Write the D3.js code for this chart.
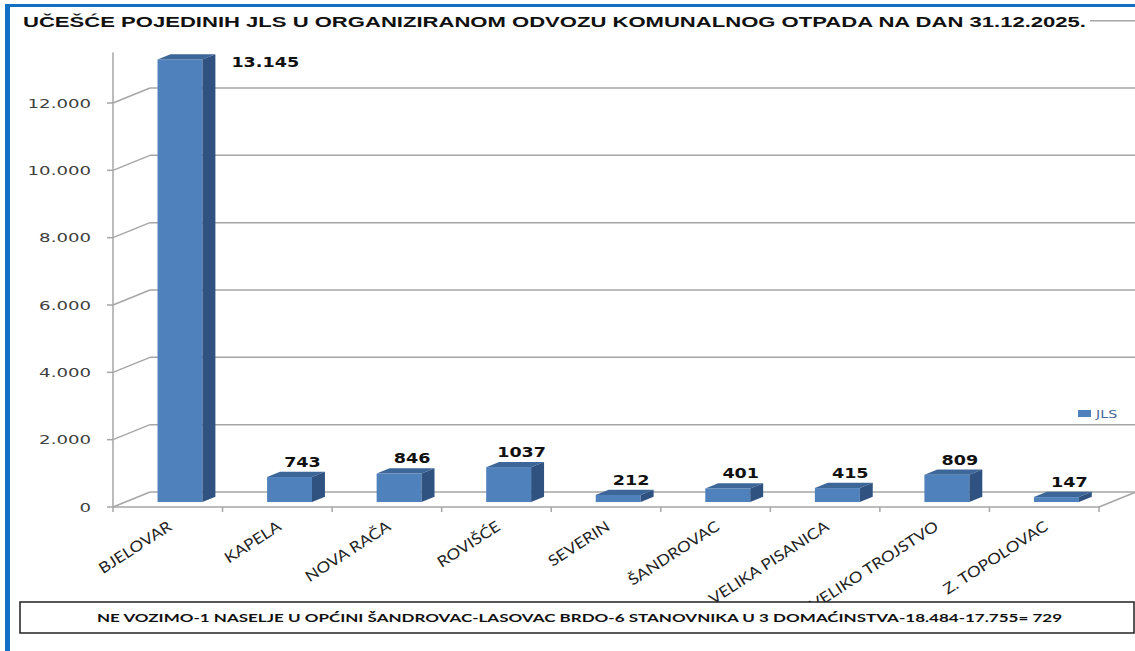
<!DOCTYPE html>
<html>
<head>
<meta charset="utf-8">
<script src="https://cdn.jsdelivr.net/npm/d3@7"></script>
<style>
  body { margin: 0; background: #fff; }
  svg { display: block; }
</style>
</head>
<body>
<script>
// data
const categories = ["BJELOVAR", "KAPELA", "NOVA RAČA", "ROVIŠĆE", "SEVERIN", "ŠANDROVAC", "VELIKA PISANICA", "VELIKO TROJSTVO", "Z. TOPOLOVAC"];
const values = [13145, 743, 846, 1037, 212, 401, 415, 809, 147];
const valueLabels = ["13.145", "743", "846", "1037", "212", "401", "415", "809", "147"];
const yTicks = [0, 2000, 4000, 6000, 8000, 10000, 12000, 14000];
const seriesName = "JLS";
const title = "UČEŠĆE POJEDINIH JLS U ORGANIZIRANOM  ODVOZU KOMUNALNOG OTPADA NA  DAN 31.12.2025.";
const note = "NE VOZIMO-1 NASELJE U OPĆINI ŠANDROVAC-LASOVAC BRDO-6 STANOVNIKA U 3 DOMAĆINSTVA-18.484-17.755= 729";

const width = 1135, height = 651;
const grid = "#a6a6a6";
const barFront = "#4f81bd", barTop = "#3d6699", barSide = "#2f5281";

// 3d depth of the plot (back wall offset)
const depth = { dx: 37, dy: -15 };
const barDepth = { f1: 0.33, f2: 0.68 };

const fmt = d3.formatLocale({ decimal: ",", thousands: ".", grouping: [3], currency: ["", ""] }).format(",");

// horizontal stretch of text, the picture is wide
function stretch(sel, k) {
    sel.each(function () {
        const len = this.getComputedTextLength();
        d3.select(this).attr("textLength", len * k).attr("lengthAdjust", "spacingAndGlyphs");
    });
}

const svg = d3.select("body").append("svg")
    .attr("width", width)
    .attr("height", height);

const x = d3.scaleBand().domain(categories).range([113, 1099]);
const y = d3.scaleLinear().domain([0, 12000]).range([507, 103]);

const base = y(0);
const leftX = x.range()[0], rightX = x.range()[1];

// back wall gridlines
svg.append("g").selectAll("line")
    .data(yTicks)
    .enter()
    .append("line")
    .attr("x1", leftX + depth.dx)
    .attr("x2", width)
    .attr("y1", d => y(d) + depth.dy)
    .attr("y2", d => y(d) + depth.dy)
    .attr("stroke", grid)
    .attr("stroke-width", 1.5);

// side wall gridlines
svg.append("g").selectAll("line")
    .data(yTicks.filter(d => d < 14000))
    .enter()
    .append("line")
    .attr("x1", leftX)
    .attr("x2", leftX + depth.dx)
    .attr("y1", d => y(d))
    .attr("y2", d => y(d) + depth.dy)
    .attr("stroke", grid)
    .attr("stroke-width", 1.5);

// floor front edge and right edge
svg.append("line")
    .attr("x1", leftX).attr("x2", rightX)
    .attr("y1", base).attr("y2", base)
    .attr("stroke", grid).attr("stroke-width", 1.5);
svg.append("line")
    .attr("x1", rightX).attr("x2", rightX + depth.dx)
    .attr("y1", base).attr("y2", base + depth.dy)
    .attr("stroke", grid).attr("stroke-width", 1.5);

// value axis line + ticks
svg.append("line")
    .attr("x1", leftX).attr("x2", leftX)
    .attr("y1", base).attr("y2", y(13500))
    .attr("stroke", grid).attr("stroke-width", 1.5);
svg.append("g").selectAll("line")
    .data(yTicks.filter(d => d < 14000))
    .enter()
    .append("line")
    .attr("x1", leftX - 6).attr("x2", leftX)
    .attr("y1", d => y(d)).attr("y2", d => y(d))
    .attr("stroke", grid).attr("stroke-width", 1.5);

// category ticks
svg.append("g").selectAll("line")
    .data(categories.map(c => x(c)).concat([rightX]))
    .enter()
    .append("line")
    .attr("x1", d => d).attr("x2", d => d)
    .attr("y1", base).attr("y2", base + 5)
    .attr("stroke", grid).attr("stroke-width", 1.5);

// value tick labels
svg.append("g").selectAll("text")
    .data(yTicks.filter(d => d < 14000))
    .enter()
    .append("text")
    .attr("x", 91)
    .attr("y", d => y(d))
    .attr("dy", "0.36em")
    .attr("text-anchor", "end")
    .attr("font-family", "DejaVu Sans")
    .attr("font-size", 12.5)
    .attr("fill", "#404040")
    .text(d => fmt(d))
    .call(stretch, 1.45);

// bars
const bw = x.bandwidth() * 0.41;
const data = categories.map((c, i) => ({ cat: c, value: values[i], label: valueLabels[i] }));

const bars = svg.append("g").selectAll("g")
    .data(data)
    .enter()
    .append("g");

const fx = d => x(d.cat) + (x.bandwidth() - bw) / 2 + barDepth.f1 * depth.dx;
const fy = v => y(v) + barDepth.f1 * depth.dy;
const ddx = (barDepth.f2 - barDepth.f1) * depth.dx;
const ddy = (barDepth.f2 - barDepth.f1) * depth.dy;

bars.append("rect")
    .attr("x", d => fx(d))
    .attr("y", d => fy(d.value))
    .attr("width", bw)
    .attr("height", d => fy(0) - fy(d.value))
    .attr("fill", barFront);

bars.append("path")
    .attr("d", d => {
        const x0 = fx(d), y0 = fy(d.value);
        return `M${x0},${y0} L${x0 + ddx},${y0 + ddy} L${x0 + bw + ddx},${y0 + ddy} L${x0 + bw},${y0} Z`;
    })
    .attr("fill", barTop);

bars.append("path")
    .attr("d", d => {
        const x0 = fx(d) + bw, yt = fy(d.value), yb = fy(0);
        return `M${x0},${yt} L${x0 + ddx},${yt + ddy} L${x0 + ddx},${yb + ddy} L${x0},${yb} Z`;
    })
    .attr("fill", barSide);

// data labels
bars.append("text")
    .attr("x", d => d.value > 12000 ? fx(d) + bw + ddx + 16 : fx(d) + bw / 2 + ddx)
    .attr("y", d => d.value > 12000 ? fy(d.value) + 7 : fy(d.value) + ddy - 5)
    .attr("text-anchor", d => d.value > 12000 ? "start" : "middle")
    .attr("font-family", "DejaVu Sans")
    .attr("font-weight", "bold")
    .attr("font-size", 13.5)
    .attr("fill", "#111")
    .text(d => d.label)
    .call(stretch, 1.3);

// category labels
svg.append("g").selectAll("text")
    .data(categories)
    .enter()
    .append("text")
    .attr("transform", d => `translate(${x(d) + x.bandwidth() / 2 + 5},${base + 22}) rotate(-33)`)
    .attr("text-anchor", "end")
    .attr("font-family", "Lato")
    .attr("font-size", 15)
    .attr("fill", "#222")
    .text(d => d)
    .call(stretch, 1.15);

// legend
svg.append("rect")
    .attr("x", 1078).attr("y", 410)
    .attr("width", 13).attr("height", 7)
    .attr("fill", barFront);
svg.append("text")
    .attr("x", 1096).attr("y", 418)
    .attr("font-family", "DejaVu Sans")
    .attr("font-size", 11)
    .attr("fill", "#4a6b9a")
    .text(seriesName)
    .call(stretch, 1.3);

// title (covers the top gridline like in the original)
svg.append("rect")
    .attr("x", 12).attr("y", 8)
    .attr("width", 1078).attr("height", 24)
    .attr("fill", "#fff");
svg.append("text")
    .attr("x", 23).attr("y", 27)
    .attr("font-family", "Liberation Sans")
    .attr("font-weight", "bold")
    .attr("font-size", 14.5)
    .attr("fill", "#111")
    .attr("textLength", 1063)
    .attr("lengthAdjust", "spacingAndGlyphs")
    .text(title);

// note box at the bottom
svg.append("rect")
    .attr("x", 20).attr("y", 602)
    .attr("width", 1114).attr("height", 31)
    .attr("fill", "#fff")
    .attr("stroke", "#222")
    .attr("stroke-width", 1.5);
svg.append("text")
    .attr("x", 97).attr("y", 622)
    .attr("font-family", "Lato")
    .attr("font-weight", "bold")
    .attr("font-size", 12)
    .attr("fill", "#111")
    .attr("textLength", 965)
    .attr("lengthAdjust", "spacingAndGlyphs")
    .text(note);

// blue frame
svg.append("rect").attr("x", 5).attr("y", 4).attr("width", width - 5).attr("height", 3).attr("fill", "#1170c4");
svg.append("rect").attr("x", 5).attr("y", 4).attr("width", 5).attr("height", height - 4).attr("fill", "#1170c4");
</script>
</body>
</html>
